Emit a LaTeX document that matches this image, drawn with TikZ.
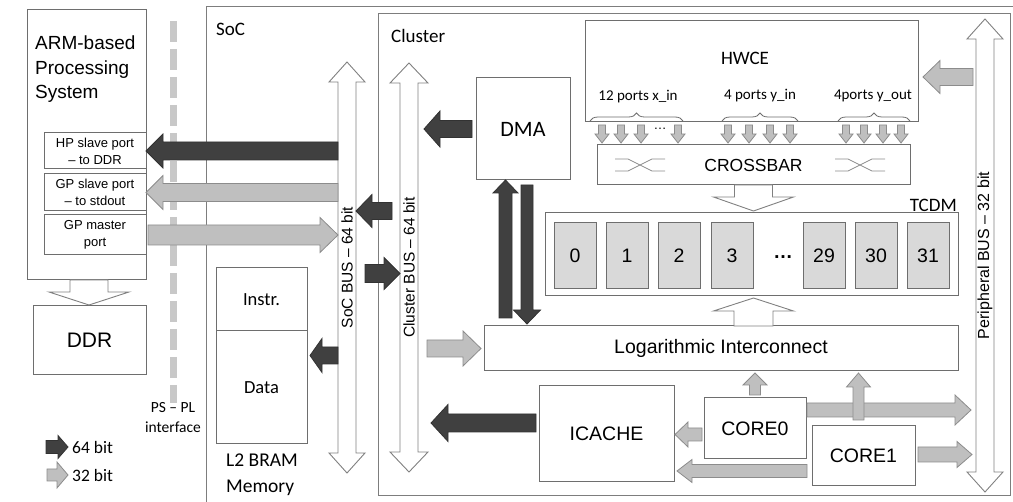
\documentclass[tikz,border=0pt]{standalone}
\usepackage{fontspec}
\setmainfont{Liberation Sans}
\newfontfamily\calibri{Carlito}
\usetikzlibrary{calc,decorations.pathreplacing}

\definecolor{boxline}{RGB}{110,110,110}
\definecolor{framegray}{RGB}{125,125,125}
\definecolor{darkfill}{RGB}{64,64,64}
\definecolor{darkline}{RGB}{50,50,50}
\definecolor{lightfill}{RGB}{191,191,191}
\definecolor{lightline}{RGB}{140,140,140}
\definecolor{hollowline}{RGB}{128,128,128}
\definecolor{bankfill}{RGB}{217,217,217}
\definecolor{dashgray}{RGB}{200,200,200}

\newcommand\setfs[2]{\fontsize{#1}{#2}\selectfont}

% block arrow: [style]{from}{to}{shaft half width}{head half width}{head length}
\newcommand\blockarrow[6][darkarrow]{%
  \coordinate (ba-a) at (#2);
  \coordinate (ba-b) at (#3);
  \coordinate (ba-c) at ($(ba-b)!#6pt!(ba-a)$);
  \draw[#1] ($(ba-a)!#4pt!90:(ba-b)$) -- ($(ba-c)!#4pt!-90:(ba-a)$) -- ($(ba-c)!#5pt!-90:(ba-a)$)
    -- (ba-b) -- ($(ba-c)!#5pt!90:(ba-a)$) -- ($(ba-c)!#4pt!90:(ba-a)$) -- ($(ba-a)!#4pt!-90:(ba-b)$) -- cycle;
}
% hollow bus with two heads round a shaft node: {node}{head extend}{head length}
\newcommand\busarrow[3]{%
  \draw[hollowarrow] (#1.south west) -- (#1.north west) -- ++(-#2,0) -- ($(#1.north)+(0,-#3)$)
    -- ($(#1.north east)+(#2,0)$) -- (#1.north east) -- (#1.south east) -- ++(#2,0)
    -- ($(#1.south)+(0,#3)$) -- ($(#1.south west)+(-#2,0)$) -- cycle;
}

\tikzset{
  frame/.style={draw=framegray, line width=1pt},
  blk/.style={draw=boxline, line width=1pt, fill=white, inner sep=0pt, outer sep=0pt, align=center},
  bank/.style={blk, fill=bankfill, minimum width=42, minimum height=66, font=\setfs{19.5}{23}},
  darkarrow/.style={fill=darkfill, draw=darkline, line width=0.8pt},
  lightarrow/.style={fill=lightfill, draw=lightline, line width=0.8pt},
  hollowarrow/.style={fill=white, draw=hollowline, line width=0.9pt},
  busshaft/.style={inner sep=0pt, outer sep=0pt, minimum width=18},
  buslabel/.style={rotate=90, inner sep=0pt, font=\setfs{15.5}{18}},
  portbrace/.style={decorate, decoration={brace, amplitude=8pt}, draw=boxline, line width=0.8pt},
  xmark/.style={draw=lightline, line width=0.7pt},
  psline/.style={draw=dashgray, line width=7pt, dash pattern=on 21pt off 7pt},
}

\begin{document}
\begin{tikzpicture}[x=1pt,y=-1pt]
  \useasboundingbox (0,0) rectangle (1013,502);

  %frames
  \draw[frame] (206,502) |- (1013,7);
  \node[anchor=west, inner sep=0, font=\calibri\setfs{19}{23}] (soclbl) at (216,29) {SoC};
  \node[frame, inner sep=0, outer sep=0, minimum width=632, minimum height=482] (cluster) at (694,255) {};
  \node[anchor=west, inner sep=0, font=\calibri\setfs{19}{23}] (cllbl) at (391,36) {Cluster};

  %processing system
  \node[blk, minimum width=119, minimum height=270] (arm) at (86.5,145) {};
  \node[anchor=north west, align=left, inner sep=0, font=\setfs{19}{24.5}] (armtxt) at (35,36) {ARM-based\\Processing\\System};
  \node[blk, minimum width=102, minimum height=36, font=\setfs{13}{17}] (hpport) at (95,151) {HP slave port\\– to DDR};
  \node[blk, minimum width=102, minimum height=37, font=\setfs{13}{17}] (gpslave) at (95,192.5) {GP slave port\\– to stdout};
  \node[blk, minimum width=102, minimum height=40, font=\setfs{13}{17}] (gpmaster) at (95,235) {GP master\\port};
  \node[blk, minimum width=113, minimum height=69, font=\setfs{21}{25}] (ddr) at (89.5,340.5) {DDR};
  \coordinate (armdn) at ([xshift=2.5pt]arm.south);
  \blockarrow[hollowarrow]{armdn}{$(armdn |- ddr.north)+(0,-1)$}{19}{40}{13}

  %ps-pl interface
  \coordinate (pstop) at (173,21);
  \node[align=center, inner sep=0, font=\calibri\setfs{15.5}{20}] (psif) at (173,418) {PS – PL\\interface};
  \draw[psline] (pstop) -- (psif.north);

  %legend
  \node[anchor=west, inner sep=0, font=\calibri\setfs{17.5}{20}] (lg64) at (72,447) {64 bit};
  \node[anchor=west, inner sep=0, font=\calibri\setfs{17.5}{20}] (lg32) at (72,475) {32 bit};
  \blockarrow[darkarrow]{$(lg64.west)+(-26,0)$}{$(lg64.west)+(-4,0)$}{6.5}{11.5}{10}
  \blockarrow[lightarrow]{$(lg32.west)+(-25,0)$}{$(lg32.west)+(-4,0)$}{6}{13}{11}

  %buses
  \node[busshaft, minimum height=371] (socbus) at (347,267.5) {};
  \node[busshaft, minimum height=369] (clbus) at (409,267.5) {};
  \node[busshaft, minimum height=433] (pbus) at (985,255.5) {};
  \busarrow{socbus}{9}{20}
  \busarrow{clbus}{10}{20}
  \busarrow{pbus}{9}{20}
  \node[buslabel] (socbuslbl) at (socbus) {SoC BUS – 64 bit};
  \node[buslabel] (clbuslbl) at (clbus) {Cluster BUS – 64 bit};
  \node[buslabel, font=\setfs{16}{18}] (pbuslbl) at (pbus) {Peripheral BUS – 32 bit};

  %l2 memory
  \node[blk, minimum width=91, minimum height=63, font=\calibri\setfs{18.5}{22}] (instr) at (261.5,299.5) {Instr.};
  \node[blk, minimum width=91, minimum height=113, font=\calibri\setfs{18.5}{22}] (data) at (261.5,387.5) {Data};
  \node[anchor=north west, align=left, inner sep=0, font=\calibri\setfs{19.5}{26}] (l2lbl) at (226,454) {L2 BRAM\\Memory};

  %cluster blocks
  \node[blk, minimum width=94, minimum height=102, font=\calibri\setfs{22}{26}] (dma) at (523,129) {DMA};
  \node[blk, minimum width=333, minimum height=101] (hwce) at (751.5,71.5) {};
  \node[font=\calibri\setfs{19}{23}] (hwcelbl) at (745,58) {HWCE};
  \node[font=\calibri\setfs{15}{18}] (xin) at (638,97) {12 ports x\_in};
  \node[font=\calibri\setfs{15}{18}] (yin) at (760,96) {4 ports y\_in};
  \node[font=\calibri\setfs{15}{18}] (yout) at (873,96) {4ports y\_out};
  \draw[portbrace] (590,121) -- (683,121);
  \draw[portbrace] (722,121) -- (798,121);
  \draw[portbrace] (838,121) -- (910,121);
  \node[blk, minimum width=313, minimum height=40, font=\setfs{17.5}{21}] (xbar) at (753.5,165) {CROSSBAR};
  \foreach \cx in {615,835}
    \draw[xmark] (\cx,159) -- ++(13,0) -- ++(24,12) -- ++(13,0) (\cx,171) -- ++(13,0) -- ++(24,-12) -- ++(13,0);
  \node[font=\setfs{13}{15}] (xdots) at (660,129) {…};

  \node[blk, minimum width=413, minimum height=83] (tcdm) at (751.5,254.5) {};
  \node[anchor=south east, inner sep=1pt, font=\calibri\setfs{19}{23}] (tcdmlbl) at (tcdm.north east) {TCDM};
  \foreach \b/\x in {0/575,1/627,2/679,3/732,29/824,30/876,31/928}
    \node[bank] (bank\b) at (\x,256) {\b};
  \node[font=\setfs{19.5}{23}] (bankdots) at (783,257) {\textbf{…}};

  \node[blk, minimum width=474, minimum height=45, font=\setfs{19.5}{23}] (logic) at (721,348.5) {Logarithmic Interconnect};
  \node[blk, minimum width=135, minimum height=96, font=\setfs{19.5}{23}] (icache) at (606.5,434) {ICACHE};
  \node[blk, minimum width=102, minimum height=61, font=\setfs{19.5}{23}] (core0) at (755,428.5) {CORE0};
  \node[blk, minimum width=103, minimum height=60, font=\setfs{19.5}{23}] (core1) at (863.5,456) {CORE1};

  %levels for horizontal links
  \coordinate (lvlA) at (0,211);
  \coordinate (lvlB) at (0,273.5);
  \coordinate (lvlC) at (0,355.5);
  \coordinate (lvlD) at (0,423);
  \coordinate (lvlE) at (0,77);
  \coordinate (lvlF) at (0,410);
  \coordinate (lvlG) at (0,454.5);
  \coordinate (lvlH) at (0,434.5);
  \coordinate (lvlI) at (0,471);

  %ps ports
  \blockarrow[darkarrow]{socbus.west |- hpport.east}{hpport.east}{9}{17}{17}
  \blockarrow[lightarrow]{socbus.west |- gpslave.east}{gpslave.east}{9}{17}{17}
  \blockarrow[lightarrow]{$(gpmaster.east)+(2,0)$}{socbus.west |- gpmaster.east}{10}{17.5}{18}

  %64 bit links
  \blockarrow[darkarrow]{$(clbus.west |- lvlA)+(-8,0)$}{socbus.east |- lvlA}{8.5}{16.5}{16}
  \blockarrow[darkarrow]{$(socbus.east |- lvlB)+(9,0)$}{clbus.west |- lvlB}{9}{16}{16}
  \blockarrow[darkarrow]{socbus.west |- lvlC}{$(data.east |- lvlC)+(3,0)$}{8.5}{17}{12}
  \blockarrow[darkarrow]{[xshift=-4pt]dma.west}{$(clbus.east |- dma.west)+(6,0)$}{8.5}{18}{16}
  \blockarrow[darkarrow]{$(icache.west)+(-3,-11)$}{$(clbus.east |- lvlD)+(13,0)$}{9}{18.5}{17}
  \coordinate (dmaup) at ([xshift=-17.5pt]dma.south);
  \coordinate (dmadn) at ([xshift=4pt]dma.south);
  \blockarrow[darkarrow]{$(dmaup |- logic.north)+(0,-8)$}{dmaup}{6.5}{12.5}{13}
  \blockarrow[darkarrow]{$(dmadn)+(0,5)$}{$(dmadn |- logic.north)+(0,-2)$}{6}{13.5}{14}

  %32 bit links
  \blockarrow[lightarrow]{$(clbus.east |- logic.west)+(9,0)$}{$(logic.west)+(-3,0)$}{8.5}{17.5}{18}
  \blockarrow[lightarrow]{$(pbus.west |- lvlE)+(-3,0)$}{$(hwce.east |- lvlE)+(5,0)$}{8.5}{16.5}{17}
  \blockarrow[lightarrow]{$(core0.north)+(0,-3)$}{$(core0.north |- logic.south)+(0,2)$}{5.5}{12}{12}
  \blockarrow[lightarrow]{$(core0.east)+(1,-18.5)$}{$(pbus.west |- lvlF)+(-5,0)$}{7}{15}{16}
  \coordinate (c1up) at ([xshift=-5pt]core1.north);
  \blockarrow[lightarrow]{$(c1up)+(0,-6)$}{$(c1up |- logic.south)+(0,2)$}{5.5}{12}{14}
  \blockarrow[lightarrow]{$(core1.east)+(3,-1.5)$}{$(pbus.west |- lvlG)+(-4,0)$}{7.5}{13}{15}
  \blockarrow[lightarrow]{$(core0.west)+(-2,6)$}{$(icache.east |- lvlH)+(1,0)$}{6.5}{12.5}{13}
  \blockarrow[lightarrow]{$(core1.west)+(-5,15)$}{$(icache.east |- lvlI)+(3,0)$}{6.5}{11.5}{15}

  %hwce ports into crossbar
  \foreach \xp in {602,621,641,678,728,749,770,790,846,864,883,901}{
    \coordinate (port) at (\xp,0);
    \blockarrow[lightarrow]{$(port |- hwce.south)+(0,3)$}{$(port |- xbar.north)+(0,-2)$}{3.5}{7}{9}
  }

  %wide links into tcdm
  \blockarrow[hollowarrow]{xbar.south}{$(xbar.south |- tcdm.north)+(0,-2)$}{19}{40}{14}
  \blockarrow[hollowarrow]{xbar.south |- logic.north}{$(xbar.south |- tcdm.south)+(0,2)$}{19.5}{40}{13}
\end{tikzpicture}
\end{document}
